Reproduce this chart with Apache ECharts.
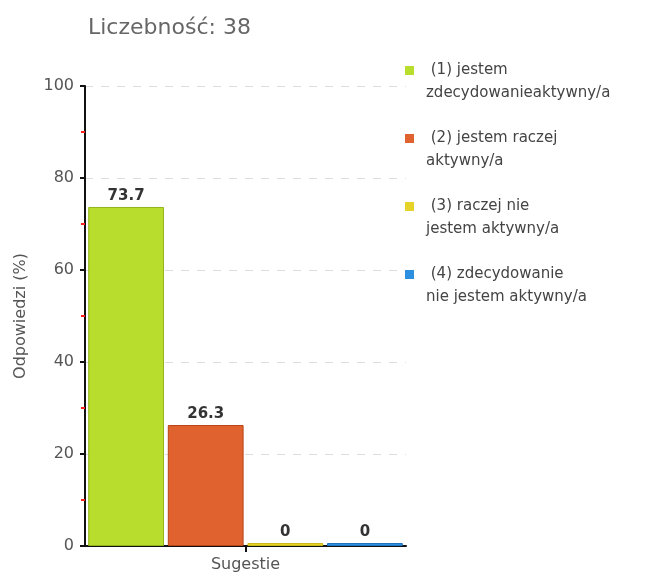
<!DOCTYPE html>
<html>
<head>
<meta charset="utf-8">
<script src="https://cdn.jsdelivr.net/npm/echarts@6/dist/echarts.min.js"></script>
<style>
  html, body { margin: 0; padding: 0; background: #fff; }
  #main { width: 670px; height: 573px; }
</style>
</head>
<body>
<div id="main"></div>
<script>
// dane z wykresu
var categories = ['Sugestie'];
var seriesNames = [
  ' (1) jestem\nzdecydowanieaktywny/a',
  ' (2) jestem raczej\naktywny/a',
  ' (3) raczej nie\njestem aktywny/a',
  ' (4) zdecydowanie\nnie jestem aktywny/a'
];
var seriesValues = [[73.7], [26.3], [0], [0]];
var seriesColors = ['#b8dd2d', '#e0622e', '#e6d32a', '#2c8fe0'];
var borderColors = ['#92b51c', '#b84517', '#c9b81a', '#1f74c0'];
var yTicks = [0, 20, 40, 60, 80, 100];

var chartDom = document.getElementById('main');
var myChart = echarts.init(chartDom);

// kwadrat u góry wysokiego pola, żeby ikona stała przy pierwszej linii tekstu
var legendIcon = 'path://M0,0h9v9h-9zM0,31.99h9v0.01h-9z';

var series = [];
for (var i = 0; i < seriesNames.length; i++) {
  series.push({
    name: seriesNames[i],
    type: 'bar',
    data: seriesValues[i],
    barGap: '5%',
    barCategoryGap: '2%',
    barMinHeight: 3,
    itemStyle: {
      color: seriesColors[i],
      borderColor: borderColors[i],
      borderWidth: 1
    },
    label: {
      show: true,
      position: 'top',
      distance: 3,
      color: '#333',
      fontSize: 15,
      fontFamily: 'DejaVu Sans',
      fontWeight: 'bold'
    }
  });
}

var option = {
  animation: false,
  title: {
    text: 'Liczebność: 38',
    left: 83,
    top: 12,
    textStyle: {
      color: '#666',
      fontSize: 22,
      fontWeight: 'normal',
      fontFamily: 'DejaVu Sans'
    }
  },
  legend: {
    orient: 'vertical',
    left: 400,
    top: 54,
    itemWidth: 9,
    itemHeight: 32,
    itemGap: 22,
    icon: legendIcon,
    itemStyle: { borderWidth: 0 },
    data: seriesNames,
    textStyle: {
      color: '#444',
      fontSize: 15,
      lineHeight: 23,
      padding: [0, 0, 0, 7],
      fontFamily: 'DejaVu Sans'
    }
  },
  grid: {
    left: 85,
    right: 264,
    top: 86,
    bottom: 27,
    containLabel: false
  },
  xAxis: {
    type: 'category',
    data: categories,
    axisLine: { lineStyle: { color: '#111', width: 2 } },
    axisTick: { show: true, alignWithLabel: true, length: 6, lineStyle: { color: '#111', width: 2 } },
    axisLabel: { color: '#555', fontSize: 16, fontFamily: 'DejaVu Sans', margin: 11 }
  },
  yAxis: {
    type: 'value',
    min: yTicks[0],
    max: yTicks[yTicks.length - 1],
    interval: 20,
    name: 'Odpowiedzi (%)',
    nameLocation: 'middle',
    nameGap: 56,
    nameTextStyle: { color: '#555', fontSize: 16, fontFamily: 'DejaVu Sans' },
    axisLine: { show: true, lineStyle: { color: '#111', width: 2 } },
    axisTick: { show: true, length: 5, lineStyle: { color: '#111', width: 2 } },
    minorTick: { show: true, splitNumber: 2, length: 4, lineStyle: { color: '#ff2020', width: 2 } },
    axisLabel: { color: '#555', fontSize: 16, fontFamily: 'DejaVu Sans', margin: 11 },
    splitLine: { show: true, lineStyle: { color: '#ddd', type: [8, 8], width: 1 } }
  },
  series: series
};

option && myChart.setOption(option, true);
</script>
</body>
</html>
